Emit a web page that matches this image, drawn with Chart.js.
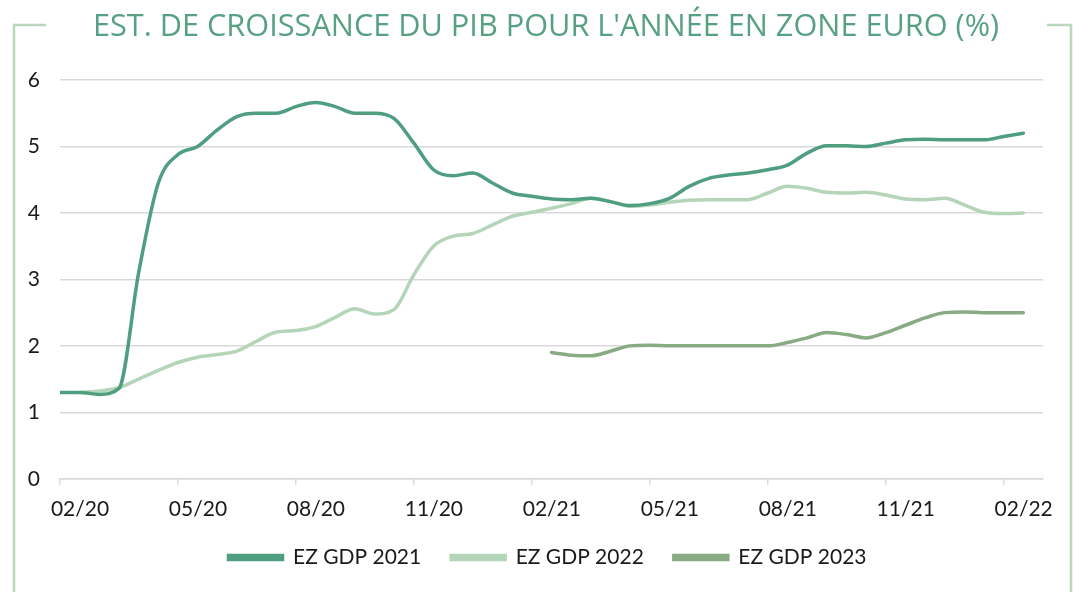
<!DOCTYPE html>
<html>
<head>
<meta charset="utf-8">
<script src="https://cdn.jsdelivr.net/npm/chart.js@4"></script>
<style>
  html, body { margin: 0; padding: 0; background: #fff; }
  #wrap { width: 1073px; height: 592px; }
</style>
</head>
<body>
<div id="wrap"><canvas id="gdpChart"></canvas></div>
<script>
const chartTitle = "EST. DE CROISSANCE DU PIB POUR L'ANNÉE EN ZONE EURO (%)"

// half-month steps from 02/20
const xMonths = [0, 0.5, 1, 1.5, 2, 2.5, 3, 3.5, 4, 4.5, 5, 5.5, 6, 6.5, 7, 7.5, 8, 8.5, 9, 9.5,
  10, 10.5, 11, 11.5, 12, 12.5, 13, 13.5, 14, 14.5, 15, 15.5, 16, 16.5, 17, 17.5, 18, 18.5, 19, 19.5,
  20, 20.5, 21, 21.5, 22, 22.5, 23, 23.5, 24, 24.5]

const tickLabels = ['02/20', '05/20', '08/20', '11/20', '02/21', '05/21', '08/21', '11/21', '02/22']

const gdp2021 = [1.30, 1.30, 1.27, 1.36, 3.10, 4.45, 4.88, 5.00, 5.25, 5.45,
  5.50, 5.50, 5.60, 5.66, 5.60, 5.50, 5.50, 5.42, 5.05, 4.65,
  4.56, 4.60, 4.45, 4.30, 4.25, 4.21, 4.20, 4.22, 4.17, 4.11,
  4.14, 4.22, 4.40, 4.52, 4.57, 4.60, 4.65, 4.72, 4.90, 5.01,
  5.01, 5.00, 5.05, 5.10, 5.11, 5.10, 5.10, 5.10, 5.15, 5.20]

const gdp2022 = [null, 1.30, 1.32, 1.37, 1.50, 1.63, 1.75, 1.83, 1.87, 1.92,
  2.07, 2.21, 2.23, 2.29, 2.43, 2.56, 2.48, 2.55, 3.07, 3.50,
  3.65, 3.69, 3.82, 3.95, 4.01, 4.07, 4.14, 4.22, 4.17, 4.10,
  4.12, 4.16, 4.19, 4.20, 4.20, 4.20, 4.30, 4.40, 4.37, 4.31,
  4.30, 4.31, 4.27, 4.21, 4.20, 4.22, 4.12, 4.01, 3.99, 4.00]

const gdp2023 = [null, null, null, null, null, null, null, null, null, null,
  null, null, null, null, null, null, null, null, null, null,
  null, null, null, null, null, 1.90, 1.86, 1.85, 1.92, 2.00,
  2.01, 2.00, 2.00, 2.00, 2.00, 2.00, 2.00, 2.05, 2.12, 2.20,
  2.17, 2.12, 2.20, 2.31, 2.42, 2.50, 2.51, 2.50, 2.50, 2.50]

const seriesNames = ['EZ GDP 2021', 'EZ GDP 2022', 'EZ GDP 2023']
const seriesColors = ['#4f9e80', '#b4d5b8', '#88ab84']

function toPoints(values) {
  return values.map((v, i) => ({ x: xMonths[i], y: v }))
}

// frame + title
const framePlugin = {
  id: 'frame',
  afterLayout(chart) {
    // nudge the legend to sit where the original one is
    const lg = chart.legend
    lg.left += 26
    lg.right += 26
    lg.top -= 17
    lg.bottom -= 17
  },
  beforeDraw(chart) {
    const ctx = chart.ctx
    ctx.save()
    ctx.strokeStyle = '#b9d8be'
    ctx.lineWidth = 2.5
    ctx.beginPath()
    ctx.moveTo(46, 25)
    ctx.lineTo(14, 25)
    ctx.lineTo(14, 592)
    ctx.moveTo(1047, 25)
    ctx.lineTo(1071, 25)
    ctx.lineTo(1071, 592)
    ctx.stroke()

    ctx.fillStyle = '#57a182'
    ctx.font = '400 30.7px "Open Sans"'
    ctx.textAlign = 'center'
    ctx.textBaseline = 'alphabetic'
    ctx.fillText(chartTitle, 546, 36)
    ctx.restore()
  }
}

const datasets = [gdp2021, gdp2022, gdp2023].map((vals, i) => ({
  label: seriesNames[i],
  data: toPoints(vals),
  borderColor: seriesColors[i],
  backgroundColor: seriesColors[i],
  borderWidth: 3.5,
  borderCapStyle: 'round',
  pointRadius: 0,
  cubicInterpolationMode: 'monotone',
  spanGaps: false
}))

const ctx = document.getElementById('gdpChart').getContext('2d')
const gdpChart = new Chart(ctx, {
  type: 'line',
  data: { datasets: datasets },
  options: {
    responsive: true,
    maintainAspectRatio: false,
    animation: false,
    layout: {
      padding: { top: 80, right: 30, left: 0, bottom: -3 }
    },
    plugins: {
      legend: {
        position: 'bottom',
        labels: {
          color: '#1a1a1a',
          font: { family: 'Lato', size: 21 },
          boxWidth: 54,
          boxHeight: 4,
          padding: 30
        }
      },
      tooltip: { enabled: false }
    },
    scales: {
      x: {
        type: 'linear',
        min: 0,
        max: 25,
        afterBuildTicks(axis) {
          axis.ticks = axis.ticks.filter(t => t.value % 3 === 0 && t.value <= 24)
        },
        ticks: {
          stepSize: 3,
          autoSkip: false,
          maxRotation: 0,
          labelOffset: 20,
          padding: 12,
          color: '#1a1a1a',
          font: { family: 'Lato', size: 21 },
          callback: v => tickLabels[v / 3]
        },
        grid: {
          drawOnChartArea: false,
          drawTicks: true,
          tickLength: 6,
          color: '#d9d9d9',
          lineWidth: 1.5
        },
        border: { color: '#d9d9d9', width: 1.5 }
      },
      y: {
        min: 0,
        max: 6,
        afterFit(scale) { scale.width = 60 },
        ticks: {
          stepSize: 1,
          padding: 20,
          color: '#1a1a1a',
          font: { family: 'Lato', size: 21 }
        },
        grid: {
          drawTicks: false,
          color: '#d9d9d9',
          lineWidth: 1.5
        },
        border: { display: false }
      }
    }
  },
  plugins: [framePlugin]
})
</script>
</body>
</html>
